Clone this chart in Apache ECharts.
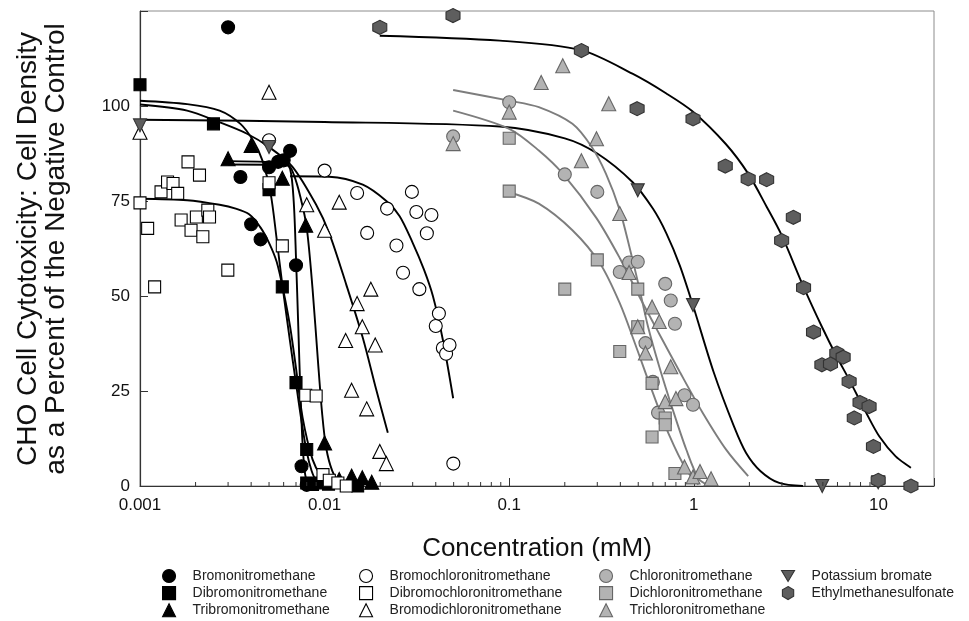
<!DOCTYPE html>
<html>
<head>
<meta charset="utf-8">
<script src="https://cdn.jsdelivr.net/npm/echarts/dist/echarts.min.js"></script>
<style>html,body{margin:0;padding:0;background:#fff}#c{width:969px;height:621px}</style>
</head>
<body>
<div id="c"></div>
<script>
// ---------- data (concentration mM, % of negative control) ----------
const bromoPts = [[0.003,120.7],[0.0035,81.3],[0.004,68.9],[0.0045,64.9],[0.005,83.9],[0.0056,85.3],[0.006,85.7],[0.0065,88.2],[0.007,58.1],[0.0075,5.2],[0.008,0.3]];
const dibromoPts = [[0.001,105.6],[0.0025,95.3],[0.005,78],[0.0059,52.4],[0.007,27.2],[0.008,9.6],[0.008,0.8],[0.0086,0.4],[0.0094,0.8],[0.0105,0.5],[0.0151,0]];
const tribromoPts = [[0.003,86.1],[0.004,89.6],[0.0059,81],[0.0079,68.6],[0.01,11.3],[0.012,1.7],[0.014,2.6],[0.016,2.2],[0.018,1.0]];
const bromochloroPts = [[0.005,91],[0.01,83],[0.015,77.1],[0.017,66.6],[0.0218,73],[0.0245,63.3],[0.0266,56.1],[0.0297,77.4],[0.0314,72.1],[0.0326,51.8],[0.0358,66.5],[0.0379,71.3],[0.04,42.1],[0.0416,45.4],[0.0437,36.3],[0.0455,34.8],[0.0475,37.1],[0.0498,5.9]];
const dibromochloroPts = [[0.001,74.5],[0.0011,67.8],[0.0012,52.4],[0.0013,77.4],[0.00141,80],[0.00151,79.6],[0.0016,77],[0.00167,70],[0.00182,85.3],[0.00189,67.3],[0.00202,70.8],[0.0021,81.8],[0.00219,65.6],[0.00233,72.6],[0.00238,70.8],[0.00299,56.8],[0.005,79.8],[0.0059,63.2],[0.0079,23.9],[0.009,23.7],[0.0098,3],[0.0106,1.5],[0.0118,0.8],[0.0131,0]];
const bromodichloroPts = [[0.001,93.1],[0.005,103.6],[0.008,74],[0.01,67.3],[0.012,74.7],[0.013,38.3],[0.014,25.2],[0.015,48],[0.016,41.9],[0.0169,20.3],[0.0178,51.8],[0.0188,37.1],[0.0199,9.1],[0.0216,5.9]];
const chloroPts = [[0.0497,92],[0.1,101],[0.2,82],[0.3,77.4],[0.397,56.3],[0.446,58.8],[0.497,59],[0.547,37.6],[0.6,27.4],[0.64,19.3],[0.7,53.2],[0.75,48.8],[0.79,42.7],[0.89,23.9],[0.99,21.4]];
const dichloroPts = [[0.1,91.5],[0.1,77.6],[0.2,51.8],[0.3,59.5],[0.397,35.4],[0.497,51.8],[0.497,41.9],[0.594,27],[0.594,12.9],[0.7,17.9],[0.7,16.1],[0.79,3.3]];
const trichloroPts = [[0.0497,90.1],[0.1,98.4],[0.149,106.2],[0.195,110.6],[0.246,85.6],[0.297,91.4],[0.346,100.6],[0.397,71.7],[0.446,56.2],[0.497,41.9],[0.547,35],[0.594,47.1],[0.65,43.3],[0.7,22.2],[0.75,31.4],[0.8,23],[0.89,5],[0.99,2.4],[1.08,3.8],[1.24,1.9]];
const kbro3Pts = [[0.001,94.9],[0.005,89.2],[0.497,77.8],[0.99,47.6],[4.96,0],[9.97,1]];
const emsPts = [[0.0199,120.7],[0.0496,123.8],[0.246,114.6],[0.493,99.3],[0.99,96.6],[1.48,84.2],[1.97,80.8],[2.48,80.6],[2.99,64.6],[3.46,70.7],[3.93,52.2],[4.45,40.5],[4.94,31.9],[5.5,32.1],[5.95,35],[6.44,33.9],[6.94,27.5],[7.4,17.9],[7.95,22],[8.9,20.9],[9.4,10.4],[9.97,1.5],[15,0]];

// fitted curves
const bromoFit = [[0.003,85.5],[0.005,85.3],[0.006,85],[0.0065,83.5],[0.0068,75],[0.007,60],[0.0072,42],[0.0074,24],[0.0076,11],[0.0078,4],[0.008,1.5],[0.0085,0.3]];
const dibromoFit = [[0.001,101.4],[0.0018,100.5],[0.0027,98.8],[0.0035,95.3],[0.0041,90.9],[0.0046,85.7],[0.0051,77],[0.0055,65],[0.0059,53],[0.0065,38],[0.007,27],[0.0075,17],[0.008,9],[0.0085,4],[0.009,1.5],[0.01,0.3]];
const tribromoFit = [[0.003,84.6],[0.0063,84.5],[0.0068,82],[0.0074,76],[0.008,68],[0.0086,52],[0.0092,33],[0.0097,19],[0.0102,10],[0.011,4],[0.012,1.2],[0.0135,0.2]];
const bromochloroFit = [[0.0065,81.5],[0.0106,81.4],[0.0161,79.3],[0.0216,75],[0.0255,71],[0.03,64],[0.0345,57],[0.0386,50],[0.0437,38.5],[0.0497,23.1]];
const dibromochloroFit = [[0.001,75.6],[0.0018,75.2],[0.0027,74],[0.0033,73],[0.0039,71.5],[0.0045,68],[0.005,64],[0.0055,59],[0.006,51],[0.0065,42],[0.007,31],[0.0076,18],[0.0086,7],[0.0095,3],[0.0106,1.3],[0.013,0.3]];
const bromodichloroFit = [[0.001,100.4],[0.0018,98.8],[0.0027,95.7],[0.0038,92.7],[0.005,89.2],[0.0067,84],[0.009,74],[0.0106,66.5],[0.0131,53],[0.0161,39],[0.019,25.5],[0.022,14]];
const chloroFit = [[0.0497,98.8],[0.1,94],[0.1447,88.3],[0.195,82.2],[0.297,70.5],[0.397,60],[0.505,50],[0.65,40],[0.84,30],[1.11,19.5],[1.5,9.5],[1.97,2.6]];
const dichloroFit = [[0.1,77.3],[0.1447,74.3],[0.22,67.3],[0.31,58.6],[0.397,48.1],[0.48,37.5],[0.6,24.5],[0.74,13.1],[0.91,4.3],[1.06,0.4]];
const trichloroFit = [[0.0497,104.2],[0.1,101.4],[0.1447,99.7],[0.22,95.3],[0.28,89.2],[0.334,82.2],[0.397,72.6],[0.448,62.9],[0.505,52.4],[0.565,41.9],[0.65,31.4],[0.77,20],[0.91,9.6],[1.06,2],[1.2,0.2]];
const kbro3Fit = [[0.001,96.4],[0.01,95.8],[0.089,94.6],[0.2,91.5],[0.3,87.5],[0.465,80],[0.6,73],[0.71,66.5],[0.84,58],[0.99,47.5],[1.28,30],[1.65,15.7],[1.92,8.7],[2.3,3.9],[2.9,0.8],[3.9,0]];
const emsFit = [[0.0199,118.5],[0.089,117.2],[0.245,114.7],[0.465,108.5],[0.71,103.3],[0.99,98.5],[1.49,90],[1.97,82.2],[2.48,73.5],[2.99,66],[3.93,52.4],[4.94,41.9],[5.95,34],[6.94,28],[8.6,19.2],[10.1,13.1],[12.4,7.8],[15,4.8]];

// axis ticks
const xTickLabels = {'-3':'0.001','-2':'0.01','-1':'0.1','0':'1','1':'10'};
const decades = [0.001,0.01,0.1,1];
const minorMultipliers = [2,3,4,5,6,7,8,9];
const yTickValues = [0,25,50,75,100];

const HEX = 'path://M0,-10L8.66,-5L8.66,5L0,10L-8.66,5L-8.66,-5Z';
const TRI_DOWN = 'path://M-10,-7L10,-7L0,10Z';
const FONT = 'Liberation Sans, Arial, sans-serif';

const minorTicks = [];
decades.forEach(d => minorMultipliers.forEach(m => minorTicks.push(d * m)));

function sc(name, data, symbol, size, fill, border) {
  return { type:'scatter', name, data, symbol, symbolSize:size, z:3,
    itemStyle:{ color:fill, borderColor:border, borderWidth:1.1, opacity:1 } };
}
function fit(data, color) {
  return { type:'line', data, showSymbol:false, smooth:0.3, silent:true, z:2,
    lineStyle:{ color, width:1.9 } };
}
const BLK = '#000', GRY = '#7d7d7d';
const series = [
  fit(bromoFit,BLK), fit(dibromoFit,BLK), fit(tribromoFit,BLK), fit(bromochloroFit,BLK),
  fit(dibromochloroFit,BLK), fit(bromodichloroFit,BLK), fit(kbro3Fit,BLK), fit(emsFit,BLK),
  fit(chloroFit,GRY), fit(dichloroFit,GRY), fit(trichloroFit,GRY),
  sc('Bromonitromethane', bromoPts, 'circle', 13, '#000', '#000'),
  sc('Dibromonitromethane', dibromoPts, 'rect', 12, '#000', '#000'),
  sc('Tribromonitromethane', tribromoPts, 'triangle', 14, '#000', '#000'),
  sc('Bromochloronitromethane', bromochloroPts, 'circle', 13, '#fff', '#000'),
  sc('Dibromochloronitromethane', dibromochloroPts, 'rect', 12, '#fff', '#000'),
  sc('Bromodichloronitromethane', bromodichloroPts, 'triangle', 14, '#fff', '#000'),
  sc('Chloronitromethane', chloroPts, 'circle', 13, '#b3b3b3', '#666'),
  sc('Dichloronitromethane', dichloroPts, 'rect', 12, '#b3b3b3', '#666'),
  sc('Trichloronitromethane', trichloroPts, 'triangle', 14, '#b3b3b3', '#666'),
  sc('Potassium bromate', kbro3Pts, TRI_DOWN, 13, '#5e5e5e', '#333'),
  sc('Ethylmethanesulfonate', emsPts, HEX, 14, '#5e5e5e', '#333'),
  { type:'custom', silent:true, clip:false, z:4, data: minorTicks.map(v => [v, 0]),
    renderItem: (params, api) => {
      const p = api.coord([api.value(0), 0]);
      return { type:'line', shape:{ x1:p[0], y1:p[1], x2:p[0], y2:p[1]-4 }, style:{ stroke:'#333', lineWidth:1 } };
    } }
];

function leg(left, names) {
  return { left, top:569, width:260, height:60, orient:'vertical', itemWidth:13, itemHeight:13, itemGap:3,
    padding:0, data:names, selectedMode:false,
    itemStyle:{ borderWidth:'inherit' },
    textStyle:{ fontSize:14, color:'#222', fontFamily:FONT, padding:[0,0,0,12] } };
}

const chart = echarts.init(document.getElementById('c'), null, { renderer:'canvas' });
chart.setOption({
  animation:false,
  backgroundColor:'#fff',
  grid:{ left:140, right:35, top:11, bottom:135, show:true, borderColor:'#8c8c8c', borderWidth:1 },
  xAxis:{ type:'log', logBase:10, min:0.001, max:20,
    name:'Concentration (mM)', nameLocation:'middle', nameGap:50,
    nameTextStyle:{ fontSize:26, color:'#111', fontFamily:FONT },
    axisLine:{ lineStyle:{ color:'#333', width:1.2 } },
    axisTick:{ inside:true, length:8, lineStyle:{ color:'#333' } },
    splitLine:{ show:false }, minorTick:{ show:false },
    axisLabel:{ fontSize:17, color:'#111', fontFamily:FONT, margin:11, showMaxLabel:true,
      formatter: v => { const e = Math.round(Math.log10(v)); return Math.abs(Math.log10(v) - e) < 1e-6 && xTickLabels[e] !== undefined ? xTickLabels[e] : ''; } } },
  yAxis:{ type:'value', min:0, max:125, interval:25,
    axisLine:{ show:true, lineStyle:{ color:'#333', width:1.2 } },
    axisTick:{ show:true, inside:true, length:8, lineStyle:{ color:'#333' } },
    splitLine:{ show:false },
    axisLabel:{ fontSize:17, color:'#111', fontFamily:FONT, margin:10,
      formatter: v => yTickValues.indexOf(v) >= 0 ? String(v) : '' } },
  legend:[
    leg(162, ['Bromonitromethane','Dibromonitromethane','Tribromonitromethane']),
    leg(359, ['Bromochloronitromethane','Dibromochloronitromethane','Bromodichloronitromethane']),
    leg(599, ['Chloronitromethane','Dichloronitromethane','Trichloronitromethane']),
    leg(781, ['Potassium bromate','Ethylmethanesulfonate'])
  ],
  graphic:[{ type:'text', x:42, y:249, rotation:Math.PI/2,
    style:{ text:'CHO Cell Cytotoxicity: Cell Density\nas a Percent of the Negative Control',
      align:'center', verticalAlign:'middle', lineHeight:28, fontSize:28, fill:'#111', fontFamily:FONT } }],
  series
});
</script>
</body>
</html>
